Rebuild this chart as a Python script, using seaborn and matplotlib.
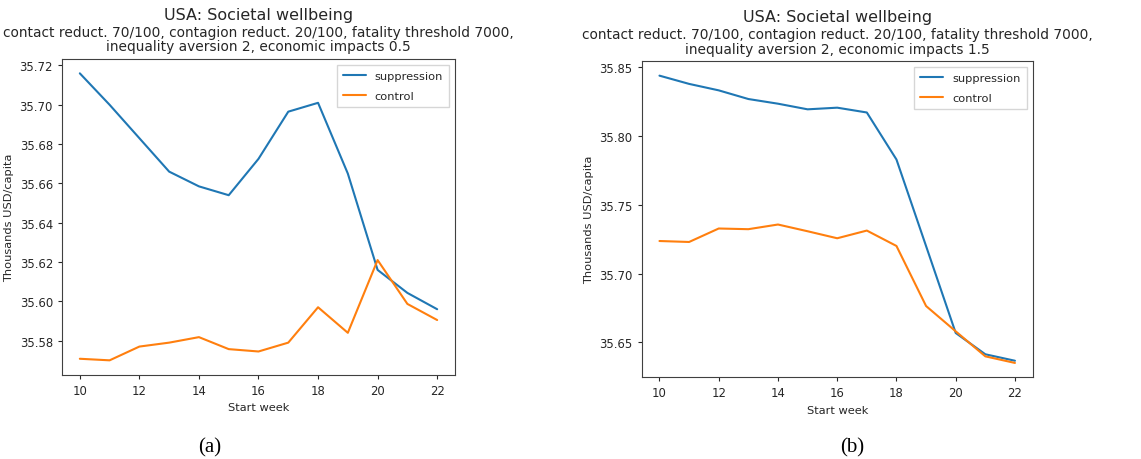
import pandas as pd
import matplotlib
matplotlib.use("Agg")
import matplotlib.pyplot as plt
import seaborn as sns

weeks = list(range(10, 23))

supp_a = [35.716, 35.700, 35.683, 35.666, 35.6585, 35.654, 35.6725, 35.6965, 35.701,
          35.665, 35.616, 35.6043, 35.596]
ctrl_a = [35.5708, 35.570, 35.577, 35.579, 35.5818, 35.5757, 35.5745, 35.579, 35.597,
          35.584, 35.621, 35.5987, 35.5905]

supp_b = [35.844, 35.838, 35.8333, 35.827, 35.8236, 35.8195, 35.8207, 35.8172, 35.783,
          35.720, 35.6568, 35.6413, 35.6366]
ctrl_b = [35.7237, 35.723, 35.7328, 35.7323, 35.7357, 35.7308, 35.7257, 35.7313, 35.7201,
          35.6764, 35.658, 35.6398, 35.635]

impacts = ["0.5", "1.5"]
captions = ["(a)", "(b)"]

sns.set_style("ticks")
plt.rcParams["font.family"] = ["DejaVu Sans"]
plt.rcParams["text.color"] = "#262626"
plt.rcParams["axes.labelcolor"] = "#262626"
plt.rcParams["xtick.color"] = "#262626"
plt.rcParams["ytick.color"] = "#262626"

fig = plt.figure(figsize=(11.41, 4.6), dpi=100)
ax_a = fig.add_axes([0.0543, 0.1833, 0.3445, 0.6863])
ax_b = fig.add_axes([0.5624, 0.1776, 0.3427, 0.6870])

for ax, supp, ctrl, imp, cap in zip([ax_a, ax_b], [supp_a, supp_b], [ctrl_a, ctrl_b], impacts, captions):
    df = pd.DataFrame({"week": weeks, "suppression": supp, "control": ctrl})
    sns.lineplot(data=df, x="week", y="suppression", ax=ax, color="#1f77b4", lw=1.5, label="suppression")
    sns.lineplot(data=df, x="week", y="control", ax=ax, color="#ff7f0e", lw=1.5, label="control")
    ax.set_xticks(range(10, 23, 2))
    ax.tick_params(labelsize=8.4, length=3, width=0.8)
    ax.set_xlabel("Start week", fontsize=8.2)
    ax.set_ylabel("Thousands USD/capita", fontsize=8.2)
    for s in ax.spines.values():
        s.set_visible(True)
        s.set_color("#404040")
        s.set_linewidth(0.8)
    leg = ax.legend(loc="upper right", fontsize=8.2, frameon=True, fancybox=False,
                    labelspacing=0.85, borderpad=0.55)
    leg.get_frame().set_edgecolor("#cccccc")
    # titles
    ax.text(0.5, 1.118, "USA: Societal wellbeing", transform=ax.transAxes,
            ha="center", va="bottom", fontsize=11.5)
    ax.text(0.5, 1.018, "contact reduct. 70/100, contagion reduct. 20/100, fatality threshold 7000,\n"
            f"inequality aversion 2, economic impacts {imp}", transform=ax.transAxes,
            ha="center", va="bottom", fontsize=9.9, linespacing=1.05)

fig.text(210 / 1141, 1 - 448 / 460, "(a)", ha="center", va="center", fontsize=15,
         family="Liberation Serif", color="black")
fig.text(852 / 1141, 1 - 448 / 460, "(b)", ha="center", va="center", fontsize=15,
         family="Liberation Serif", color="black")

fig.savefig("out.png", dpi=100)
